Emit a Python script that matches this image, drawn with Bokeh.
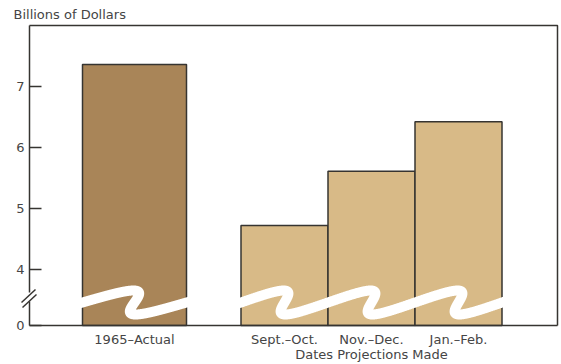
import numpy as np
from bokeh.plotting import figure
from bokeh.models import Range1d, FixedTicker, Label, ColumnDataSource
from bokeh.embed import file_html
from bokeh.resources import INLINE

# ---- data ----
categories = ["1965\u2013Actual", "Sept.\u2013Oct.", "Nov.\u2013Dec.", "Jan.\u2013Feb."]
values = [7.36, 4.72, 5.61, 6.42]
y_ticks = [4, 5, 6, 7]
y_label = "Billions of Dollars"
x_title = "Dates Projections Made"

# ---- layout ----
W, H = 561, 364
FRAME_L, FRAME_T, FRAME_R, FRAME_B = 29, 25, 557, 325   # canvas pixels of the plot box
PX_PER_UNIT = 61.0
Y0 = 3.08          # value placed at the axis bottom (labelled "0" after the break)
Y_TOP = Y0 + (FRAME_B - FRAME_T) / PX_PER_UNIT
X_RIGHT = FRAME_R - FRAME_L
centers = [105, 255, 342, 429]
widths = [104, 87, 87, 87]
colors = ["#a98558", "#d8ba87", "#d8ba87", "#d8ba87"]
INK = "#363431"
TXT = "#454545"
FONT = "DejaVu Sans"


def ypx(py):
    """canvas pixel row -> data value"""
    return Y0 + (FRAME_B - py) / PX_PER_UNIT


def xpx(px):
    return px - FRAME_L


p = figure(width=W, height=H, output_backend="svg", toolbar_location=None,
           x_range=Range1d(xpx(0), xpx(W)), y_range=Range1d(ypx(H), ypx(0)),
           min_border=0, min_border_left=0, min_border_right=0,
           min_border_top=0, min_border_bottom=0)
p.title.visible = False
p.xgrid.visible = False
p.ygrid.visible = False
p.outline_line_color = None
p.background_fill_color = "white"
p.border_fill_color = "white"

# box top and right
p.line([0, X_RIGHT, X_RIGHT], [Y_TOP, Y_TOP, Y0], line_color=INK, line_width=1.5)

src = ColumnDataSource(dict(x=centers, w=widths, top=values, c=colors, cat=categories))
p.vbar(x="x", width="w", top="top", bottom=Y0, fill_color="c", line_color=INK,
       line_width=1.5, source=src)


# wave-shaped break through the bars
def wave(x_left, x_right, period, n=1200):
    A = 12.0 / PX_PER_UNIT
    yc = ypx(302)
    t = np.linspace(-0.05, (x_right - x_left) / period, n)
    u = 2 * np.pi * t
    xs = x_left + period * (t + 0.24 * np.sin(u))
    ys = yc + A * np.sin(u)
    return xs, ys


xs1, ys1 = wave(centers[0] - widths[0] / 2, centers[0] + widths[0] / 2 + 6, widths[0])
xs2, ys2 = wave(centers[1] - widths[1] / 2, centers[3] + widths[3] / 2 + 6, widths[1])
for a, b in ((xs1, ys1), (xs2, ys2)):
    p.line(a, b, line_color="white", line_width=10, line_cap="round", line_join="round")

# axes
ax = p.yaxis[0]
ax.fixed_location = 0
ax.bounds = (Y0, Y_TOP)
ax.ticker = FixedTicker(ticks=[Y0] + y_ticks)
ax.major_label_overrides = {Y0: "0"}
ax.major_tick_in = 12
ax.major_tick_out = 0
ax.minor_tick_line_color = None
ax.axis_line_color = INK
ax.axis_line_width = 1.5
ax.major_tick_line_color = INK
ax.major_tick_line_width = 1.5
ax.major_label_standoff = 5
ax.major_label_text_font = FONT
ax.major_label_text_font_size = "13px"
ax.major_label_text_color = TXT

bx = p.xaxis[0]
bx.fixed_location = Y0
bx.bounds = (0, X_RIGHT)
bx.ticker = FixedTicker(ticks=centers)
bx.major_label_overrides = {c: lab for c, lab in zip(centers, categories)}
bx.major_tick_in = 0
bx.major_tick_out = 0
bx.minor_tick_line_color = None
bx.axis_line_color = INK
bx.axis_line_width = 1.5
bx.major_label_standoff = 6
bx.major_label_text_font = FONT
bx.major_label_text_font_size = "13px"
bx.major_label_text_color = TXT

# axis break marks
gap = p.quad(left=[xpx(26)], right=[xpx(33)], bottom=[ypx(301)], top=[ypx(292)],
             fill_color="white", line_color=None)
gap.level = "overlay"
brk = p.segment(x0=[xpx(21), xpx(22)], y0=[ypx(302), ypx(307)],
                x1=[xpx(35), xpx(36)], y1=[ypx(289), ypx(294)],
                line_color=INK, line_width=1.5)
brk.level = "overlay"

p.add_layout(Label(x=xpx(13), y=ypx(14), text=y_label, text_font=FONT,
                   text_font_size="13px", text_color=TXT, text_baseline="middle"))
p.add_layout(Label(x=centers[2], y=ypx(354), text=x_title, text_font=FONT,
                   text_font_size="13px", text_color=TXT, text_align="center",
                   text_baseline="middle"))

open("out.html", "w").write(file_html(p, INLINE))
